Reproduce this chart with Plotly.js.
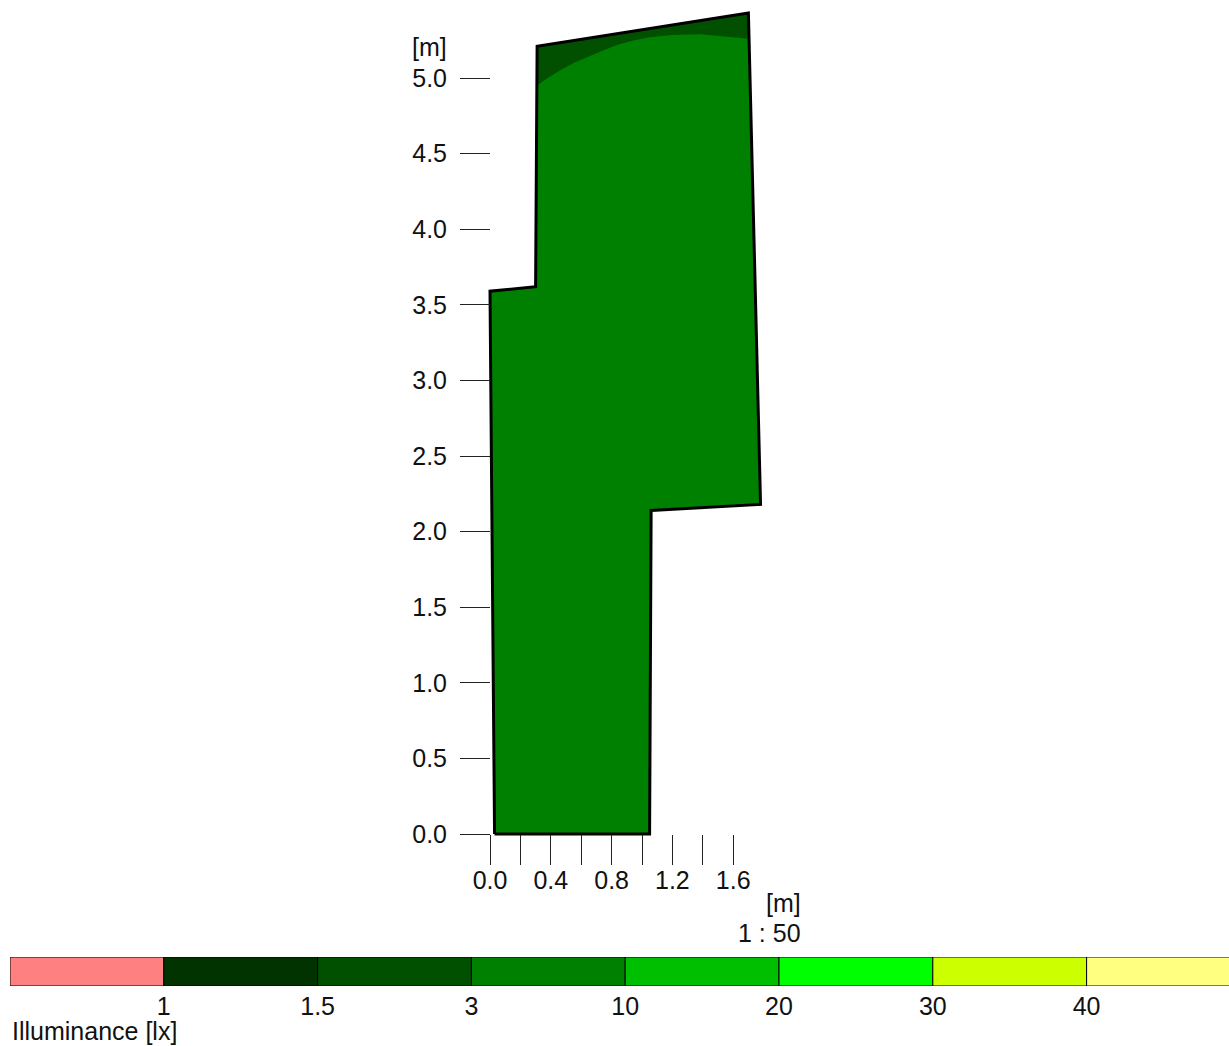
<!DOCTYPE html>
<html>
<head>
<meta charset="utf-8">
<script src="https://cdn.plot.ly/plotly-3.0.1.min.js"></script>
<style>html,body{margin:0;padding:0;background:#fff;}#chart{width:1229px;height:1046px;}</style>
</head>
<body>
<div id="chart"></div>
<script>
// Room outline (metres)
const roomX = [0.03, 1.05, 1.06, 1.78, 1.70, 0.31, 0.30, 0.00, 0.03];
const roomY = [0.00, 0.00, 2.14, 2.18, 5.43, 5.21, 3.62, 3.59, 0.00];
// Darker iso-band (1.5 - 3 lx) along the top wall
const bandX = [0.31, 1.70, 1.70, 1.60, 1.51, 1.38, 1.20, 1.05, 0.95, 0.84, 0.74, 0.64, 0.55, 0.46, 0.38, 0.31, 0.31];
const bandY = [5.21, 5.43, 5.26, 5.27, 5.28, 5.29, 5.285, 5.27, 5.25, 5.22, 5.18, 5.14, 5.10, 5.05, 5.00, 4.95, 5.21];
// Axis ticks
const xTickVals = [0, 0.2, 0.4, 0.6, 0.8, 1.0, 1.2, 1.4, 1.6];
const xTickText = ['0.0', '', '0.4', '', '0.8', '', '1.2', '', '1.6'];
const yTickVals = [0, 0.5, 1.0, 1.5, 2.0, 2.5, 3.0, 3.5, 4.0, 4.5, 5.0];
const yTickText = ['0.0', '0.5', '1.0', '1.5', '2.0', '2.5', '3.0', '3.5', '4.0', '4.5', '5.0'];
// Legend scale
const legendColors = ['#FF8080', '#003300', '#005000', '#008000', '#00BF00', '#00FF00', '#CCFF00', '#FFFF80'];
const legendLabels = ['1', '1.5', '3', '10', '20', '30', '40'];

const W = 1229, H = 1046;
const font = 'Liberation Sans, Arial, sans-serif';
const fs = 25;
// pixel mapping of plan
const x0px = 490, y0px = 834, pxPerMx = 152, pxPerMy = 151.2;
const xr = [-0.05, 1.85], yr = [-0.05, 5.5];
const xd = [(x0px + xr[0] * pxPerMx) / W, (x0px + xr[1] * pxPerMx) / W];
const yd = [1 - (y0px - yr[0] * pxPerMy) / H, 1 - (y0px - yr[1] * pxPerMy) / H];

const legendIdx = legendColors.map((c, i) => i);
const legendCenters = legendIdx.map(i => i + 0.5);
const legendOnes = legendIdx.map(() => 1);
const legendTickVals = legendLabels.map((l, i) => i + 1);

const traces = [
  {x: roomX, y: roomY, type: 'scatter', mode: 'lines', fill: 'toself', fillcolor: '#008000',
   line: {width: 0, color: 'rgba(0,0,0,0)'}, hoverinfo: 'skip', showlegend: false},
  {x: bandX, y: bandY, type: 'scatter', mode: 'lines', fill: 'toself', fillcolor: '#005000',
   line: {width: 0, color: 'rgba(0,0,0,0)'}, hoverinfo: 'skip', showlegend: false},
  {x: roomX, y: roomY, type: 'scatter', mode: 'lines', line: {width: 3, color: '#000'},
   hoverinfo: 'skip', showlegend: false},
  {x: legendCenters, y: legendOnes, type: 'bar', width: 1, xaxis: 'x2', yaxis: 'y2',
   marker: {color: legendColors, line: {color: '#000', width: 1}}, hoverinfo: 'skip', showlegend: false}
];

const txt = {family: font, size: fs, color: '#111'};
const layout = {
  width: W, height: H,
  margin: {l: 0, r: 0, t: 0, b: 0, pad: 0},
  paper_bgcolor: '#fff', plot_bgcolor: 'rgba(0,0,0,0)',
  font: txt,
  showlegend: false,
  xaxis: {
    domain: xd, range: xr, anchor: 'free', position: 1 - y0px / H,
    tickmode: 'array', tickvals: xTickVals, ticktext: xTickText,
    ticks: 'outside', ticklen: 30, tickwidth: 1, tickcolor: '#222',
    showline: false, showgrid: false, zeroline: false, fixedrange: true,
    tickfont: txt, ticklabelstandoff: -6
  },
  yaxis: {
    domain: yd, range: yr, anchor: 'free', position: x0px / W,
    tickmode: 'array', tickvals: yTickVals, ticktext: yTickText,
    ticks: 'outside', ticklen: 30, tickwidth: 1, tickcolor: '#222',
    showline: false, showgrid: false, zeroline: false, fixedrange: true,
    tickfont: txt, ticklabelstandoff: 8
  },
  xaxis2: {
    domain: [10 / W, 1], range: [0, (W - 10) / 153.8], anchor: 'y2',
    tickmode: 'array', tickvals: legendTickVals, ticktext: legendLabels,
    ticks: '', showline: false, showgrid: false, zeroline: false, fixedrange: true,
    tickfont: txt, ticklabelstandoff: 3
  },
  yaxis2: {
    domain: [1 - 986 / H, 1 - 957 / H], range: [0, 1], anchor: 'x2',
    showticklabels: false, ticks: '', showline: false, showgrid: false, zeroline: false, fixedrange: true
  },
  bargap: 0,
  annotations: [
    {text: '[m]', xref: 'paper', yref: 'paper', x: 449 / W, y: 1 - 47 / H, xanchor: 'right', yanchor: 'middle',
     showarrow: false, font: txt},
    {text: '[m]', xref: 'paper', yref: 'paper', x: 803 / W, y: 1 - 903 / H, xanchor: 'right', yanchor: 'middle',
     showarrow: false, font: txt},
    {text: '1 : 50', xref: 'paper', yref: 'paper', x: 803 / W, y: 1 - 933 / H, xanchor: 'right', yanchor: 'middle',
     showarrow: false, font: txt},
    {text: 'Illuminance [lx]', xref: 'paper', yref: 'paper', x: 10 / W, y: 1 - 1031 / H,
     xanchor: 'left', yanchor: 'middle', showarrow: false, font: {family: font, size: 25, color: '#111'}}
  ]
};

Plotly.newPlot('chart', traces, layout, {displayModeBar: false, staticPlot: true});
</script>
</body>
</html>
